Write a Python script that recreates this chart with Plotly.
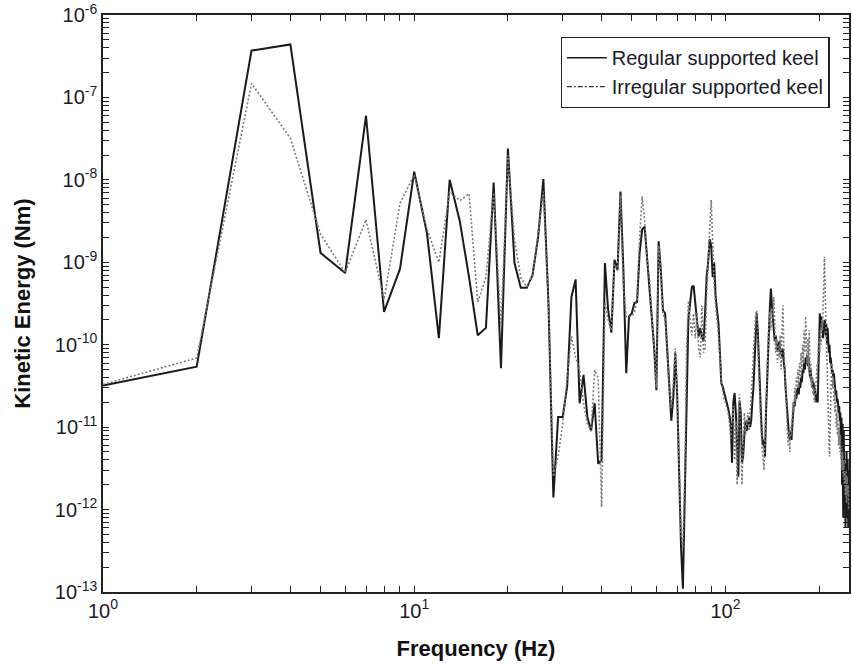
import plotly.graph_objects as go

freq_hz = list(range(1, 251))

regular_keel = [
    3.2e-11, 5.4e-11, 3.7e-7, 4.4e-7, 1.3e-9, 7.4e-10, 6.0e-8, 2.5e-10, 8.3e-10, 1.26e-8,
    2.2e-9, 1.2e-10, 1.0e-8, 3.2e-9, 6.6e-10, 1.3e-10, 1.6e-10, 9.3e-9, 5.2e-11, 2.4e-8,
    9.8e-10, 4.9e-10, 4.9e-10, 7.0e-10, 2.0e-9, 1.02e-8, 3.2e-10, 1.4e-12, 1.33e-11, 1.33e-11,
    3.1e-11, 3.8e-10, 6.2e-10, 1.95e-11, 4.3e-11, 1.33e-11, 9e-12, 1.95e-11, 3.6e-12, 4e-12,
    9.8e-10, 2.6e-10, 1.4e-10, 1.07e-9, 8e-10, 7.2e-9, 8.1e-10, 4.5e-11, 2.2e-10, 2.4e-10,
    3.2e-10, 3.3e-10, 1.3e-9, 2.5e-9, 2.7e-9, 1.2e-9, 4.6e-10, 2e-10, 9.3e-11, 2.8e-11,
    1.8e-9, 8e-10, 2.6e-10, 2.4e-10, 8e-11, 3.1e-11, 1.2e-11, 2.3e-11, 8e-11, 2.3e-11,
    2.3e-12, 3.5e-13, 1.1e-13, 1.4e-12, 3.7e-11, 2e-10, 3.2e-10, 5e-10, 5.2e-10, 2.9e-10,
    2e-10, 1.26e-10, 1.6e-10, 1.26e-10, 1.1e-10, 2.4e-10, 6.6e-10, 1e-9, 1.9e-9, 1.6e-9,
    6.6e-10, 1e-9, 3.8e-10, 2.6e-10, 1.8e-10, 8e-11, 3.4e-11, 3.1e-11, 2.7e-11, 2.4e-11,
    2e-11, 1.7e-11, 1.4e-11, 1.1e-11, 3.7e-12, 2e-11, 2.6e-11, 1.5e-11, 6e-12, 2.5e-12,
    2.1e-11, 1.5e-11, 3.7e-12, 4.4e-12, 8e-12, 1.2e-11, 9e-12, 1.1e-11, 1.3e-11, 1.0e-11,
    1.2e-11, 2e-11, 3e-11, 6e-11, 1.2e-10, 2.4e-10, 1.5e-10, 6e-11, 3e-11, 1.5e-11,
    8e-12, 6e-12, 7e-12, 4.4e-12, 1.5e-11, 4e-11, 7e-11, 1.5e-10, 3e-10, 4.8e-10,
    3e-10, 2e-10, 1.6e-10, 1.1e-10, 1.3e-10, 1e-10, 8.5e-11, 9e-11, 1.1e-10, 8e-11,
    9e-11, 7e-11, 9e-11, 6e-11, 5e-11, 3e-11, 2e-11, 1.5e-11, 1.2e-11, 8e-12,
    7e-12, 9e-12, 7e-12, 1.2e-11, 1.5e-11, 2e-11, 1.8e-11, 2.5e-11, 2.2e-11, 2.8e-11,
    3e-11, 2.5e-11, 3.5e-11, 3e-11, 4e-11, 3.5e-11, 5e-11, 4.5e-11, 6e-11, 5e-11,
    7e-11, 6e-11, 7.5e-11, 5.5e-11, 7e-11, 5e-11, 4e-11, 5e-11, 3.5e-11, 4e-11,
    3e-11, 3.5e-11, 2.5e-11, 3e-11, 2.5e-11, 2e-11, 2.5e-11, 2e-11, 5e-11, 1.2e-10,
    2.4e-10, 1.8e-10, 2.2e-10, 1.5e-10, 2e-10, 1.2e-10, 1.8e-10, 1.5e-10, 2e-10, 1.3e-10,
    1.8e-10, 1e-10, 1.6e-10, 1.1e-10, 8e-11, 1e-10, 6e-11, 7e-11, 5.8e-11, 4.5e-11,
    5e-11, 4e-11, 4.5e-11, 3.5e-11, 3e-11, 2.5e-11, 2.8e-11, 2e-11, 2.2e-11, 2e-11,
    1.5e-11, 1.8e-11, 1.2e-11, 1.5e-11, 6e-12, 1.3e-11, 2e-12, 1.1e-11, 8e-13, 9e-12,
    1.5e-12, 3.6e-12, 6e-13, 2.5e-12, 5e-12, 8e-13, 4e-12, 6e-13, 3e-12, 1.5e-12,
]

irregular_keel = [
    3.3e-11, 6.9e-11, 1.48e-7, 3.2e-8, 2.2e-9, 7.5e-10, 3.3e-9, 3.5e-10, 5.2e-9, 1.15e-8,
    2.5e-9, 1.0e-9, 7.2e-9, 5.6e-9, 6.8e-9, 3.3e-10, 6.6e-10, 7e-9, 1.65e-10, 2e-8,
    1.87e-9, 6.5e-10, 5e-10, 7e-10, 2.2e-9, 7.2e-9, 3e-10, 2.5e-12, 4.4e-12, 1.1e-11,
    4e-11, 1.26e-10, 7e-11, 4.9e-11, 1.95e-11, 1.1e-11, 9e-12, 4.9e-11, 4e-11, 1.07e-12,
    3.2e-10, 2e-10, 1.5e-10, 9.5e-10, 8e-10, 6.5e-9, 5e-10, 2.2e-10, 2.2e-10, 2.2e-10,
    2.5e-10, 3.5e-10, 2e-9, 6.3e-9, 3.2e-9, 1.1e-9, 6e-10, 2.4e-10, 9e-11, 3e-11,
    1.6e-9, 7e-10, 2.4e-10, 2e-10, 9e-11, 3e-11, 1.7e-11, 3.4e-11, 9e-11, 2.2e-11,
    3.6e-12, 5e-13, 3.5e-13, 2.5e-12, 9e-11, 3.4e-10, 2e-10, 1.3e-10, 2.4e-10, 1.2e-10,
    2.4e-10, 9e-11, 7e-11, 3e-10, 8e-11, 9e-11, 4e-10, 1.2e-9, 2.5e-9, 5.7e-9,
    1.7e-9, 5.5e-10, 3e-10, 2e-10, 1.3e-10, 7e-11, 3.5e-11, 2.8e-11, 2.2e-11, 2e-11,
    1.7e-11, 1.5e-11, 1.1e-11, 7e-12, 1.3e-11, 1.8e-11, 4e-12, 1.2e-11, 2e-12, 1.5e-11,
    2.5e-11, 8e-12, 2e-12, 6e-12, 1.5e-11, 8e-12, 1.2e-11, 1.5e-11, 9e-12, 1.4e-11,
    2.5e-11, 4e-11, 8e-11, 1.5e-10, 2.2e-10, 2.6e-10, 1e-10, 4e-11, 2e-11, 1e-11,
    6e-12, 4e-12, 3e-12, 8e-12, 2e-11, 5e-11, 1e-10, 2e-10, 2.5e-10, 1.5e-10,
    2.8e-10, 2e-10, 3.8e-10, 1.5e-10, 8e-11, 1.2e-10, 6e-11, 1e-10, 7e-11, 1.3e-10,
    5e-11, 1.5e-10, 3e-10, 1e-10, 5e-11, 3e-11, 1.5e-11, 1e-11, 6e-12, 9e-12,
    5e-12, 1e-11, 8e-12, 1.5e-11, 2e-11, 1.5e-11, 3e-11, 2e-11, 4e-11, 3e-11,
    5e-11, 3e-11, 6e-11, 4e-11, 8e-11, 5e-11, 1e-10, 6e-11, 1.5e-10, 8e-11,
    2.2e-10, 1e-10, 6e-11, 1.2e-10, 5e-11, 1.5e-10, 4e-11, 6e-11, 3e-11, 4e-11,
    2.5e-11, 3e-11, 2e-11, 2.5e-11, 3e-11, 4e-11, 6e-11, 6e-11, 1e-10, 1.2e-10,
    8e-11, 1.5e-10, 1e-10, 2e-10, 1.5e-10, 3e-10, 6e-10, 1.17e-9, 5e-10, 2e-10,
    1e-10, 5e-11, 3e-11, 1.5e-11, 8e-12, 4.4e-12, 1e-11, 3e-11, 5e-11, 6e-11,
    3e-11, 4e-11, 2e-11, 3e-11, 1.5e-11, 2e-11, 1e-11, 1.5e-11, 8e-12, 1.2e-11,
    6e-12, 1e-11, 5e-12, 8e-12, 4e-12, 6e-12, 3e-12, 5e-12, 2.5e-12, 4e-12,
    2e-12, 3e-12, 1.5e-12, 3e-12, 1.2e-12, 2.5e-12, 1.5e-12, 2e-12, 1e-12, 2e-12,
]

series_names = ["Regular supported keel", "Irregular supported keel"]
x_title = "Frequency (Hz)"
y_title = "Kinetic Energy (Nm)"

# tick positions (decades labelled, 2..9 unlabelled minor marks)
x_decades = [0, 1, 2]
y_decades = [-13, -12, -11, -10, -9, -8, -7, -6]
mantissas = [1, 2, 3, 4, 5, 6, 7, 8, 9]


def tick_set(decades):
    vals, texts = [], []
    for d in decades:
        for m in mantissas:
            vals.append(m * 10.0 ** d)
            texts.append("10<sup>%d</sup>" % d if m == 1 else "")
    return vals, texts


xt_vals, xt_text = tick_set(x_decades)
yt_vals, yt_text = tick_set(y_decades)

FONT = "Liberation Sans, Arial, sans-serif"

fig = go.Figure()
fig.add_trace(go.Scatter(x=freq_hz, y=regular_keel, mode="lines",
                         line=dict(color="#1a1a1a", width=2), showlegend=False,
                         hoverinfo="skip"))
fig.add_trace(go.Scatter(x=freq_hz, y=irregular_keel, mode="lines",
                         line=dict(color="#7a7a7a", width=1.6, dash="2px,2px"),
                         showlegend=False, hoverinfo="skip"))
# legend entries (styles as shown in the legend box)
fig.add_trace(go.Scatter(x=[None], y=[None], mode="lines", name=series_names[0],
                         line=dict(color="#1a1a1a", width=1.5)))
fig.add_trace(go.Scatter(x=[None], y=[None], mode="lines", name=series_names[1],
                         line=dict(color="#333333", width=1.2, dash="5px,2px,2px,2px")))

axis_common = dict(
    type="log", showgrid=False, zeroline=False,
    showline=True, linecolor="#222", linewidth=1.5, mirror="ticks",
    ticks="inside", ticklen=6, tickwidth=1.2, tickcolor="#222",
    tickmode="array",
    tickfont=dict(family=FONT, size=20, color="#1a1a2a"),
)

fig.update_xaxes(**axis_common, range=[0, 2.397], tickvals=xt_vals, ticktext=xt_text,
                 title=dict(text=x_title, font=dict(family=FONT, size=22, color="#111", weight="bold"),
                            standoff=20))
fig.update_yaxes(**axis_common, range=[-13, -6], tickvals=yt_vals, ticktext=yt_text,
                 title=dict(text=y_title, font=dict(family=FONT, size=22, color="#111", weight="bold"),
                            standoff=18))

fig.update_layout(
    width=852, height=666,
    margin=dict(l=103, r=1, t=15, b=74),
    paper_bgcolor="white", plot_bgcolor="white",
    font=dict(family=FONT, color="#111"),
    legend=dict(x=0.974, y=0.962, xanchor="right", yanchor="top",
                bgcolor="white", bordercolor="#222", borderwidth=1.2,
                font=dict(family=FONT, size=20, color="#1a1a2a"),
                tracegroupgap=0, itemwidth=40),
)

fig.write_html("out.html")
